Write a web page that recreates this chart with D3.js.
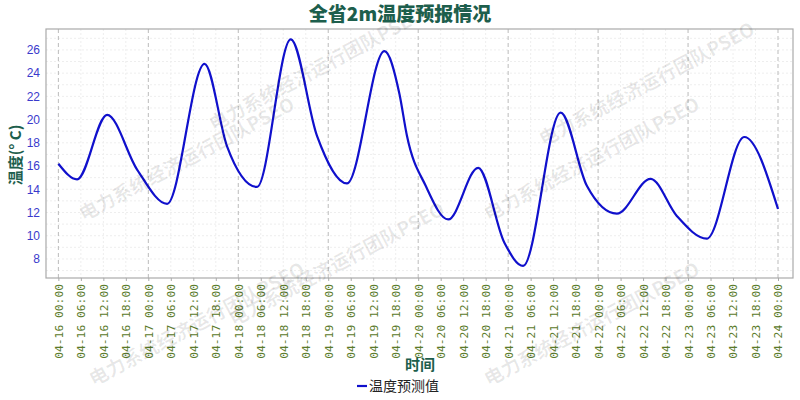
<!DOCTYPE html>
<html><head><meta charset="utf-8">
<script src="https://cdn.jsdelivr.net/npm/d3@7"></script>
<style>body{margin:0;background:#fff}</style>
</head><body><div id="chart"></div>
<script>
// hours since 04-16 00:00 and temperature
var hours = [0, 5, 13, 21, 29, 39, 45, 53, 62, 69, 77, 87, 91, 93, 98, 104, 112, 119, 124, 134, 141, 149, 158, 165, 173, 183, 192];
var temps = [16.2, 14.85, 20.4, 15.7, 12.75, 24.8, 17.7, 14.2, 26.9, 18.6, 14.5, 25.9, 22.2, 18.6, 14.3, 11.4, 15.85, 9.4, 7.4, 20.6, 14.3, 11.9, 14.9, 11.7, 9.75, 18.5, 12.3];
var yTicks = [8, 10, 12, 14, 16, 18, 20, 22, 24, 26];
var tickHours = d3.range(0, 193, 6);

var svgWidth = 800, svgHeight = 400;
var margin = {top: 29, bottom: 122, left: 46, right: 7};
var width = svgWidth - margin.left - margin.right;
var height = svgHeight - margin.top - margin.bottom;

var svg = d3.select("#chart").append("svg")
  .attr("width", svgWidth).attr("height", svgHeight)
  .style("font-family", "'DejaVu Sans', sans-serif");

var g = svg.append("g").attr("transform", `translate(${margin.left},${margin.top})`);

var xScale = d3.scaleLinear().domain([-3.3, 196]).range([0, width]);
var yScale = d3.scaleLinear().domain([6.36, 27.8]).range([height, 0]);

function label(h) {
  var day = 16 + Math.floor(h / 24), hh = h % 24;
  return "04-" + day + " " + String(hh).padStart(2, "0") + ":00";
}

// grid
g.selectAll(".hg").data(d3.range(7, 28, 1)).enter().append("line")
  .attr("x1", 0).attr("x2", width)
  .attr("y1", d => yScale(d)).attr("y2", d => yScale(d))
  .attr("stroke", "#eeeeee").attr("stroke-dasharray", "2,2");
g.selectAll(".vg").data(tickHours).enter().append("line")
  .attr("x1", d => xScale(d)).attr("x2", d => xScale(d))
  .attr("y1", 0).attr("y2", height)
  .attr("stroke", d => d % 24 === 0 ? "#bbbbbb" : "#eeeeee")
  .attr("stroke-dasharray", d => d % 24 === 0 ? "4,3" : "2,2");

g.append("rect").attr("width", width).attr("height", height)
  .attr("fill", "none").attr("stroke", "#aaaaaa").attr("stroke-width", 1.2);

// axes
var yAxis = g.append("g").call(d3.axisLeft(yScale).tickValues(yTicks).tickSize(0).tickPadding(6));
yAxis.select(".domain").remove();
yAxis.selectAll("text").attr("fill", "#3a3acc").attr("font-size", 12);

var xAxis = g.append("g").attr("transform", `translate(0,${height})`)
  .call(d3.axisBottom(xScale).tickValues(tickHours).tickFormat(label).tickSize(3));
xAxis.select(".domain").remove();
xAxis.selectAll("line").attr("stroke", "#aaaaaa");
xAxis.selectAll("text")
  .attr("transform", "rotate(-90)")
  .attr("text-anchor", "end")
  .attr("x", -6).attr("y", 0).attr("dy", "0.35em")
  .attr("fill", "#5a7a2a").attr("font-size", 11.3)
  .style("font-family", "'DejaVu Sans Mono', monospace");

// watermarks
var wm = [[190, 165], [320, 75], [200, 330], [340, 270], [595, 165], [595, 330], [650, 90]];
svg.selectAll(".wm").data(wm).enter().append("text")
  .attr("transform", d => `translate(${d[0]},${d[1]}) rotate(-28)`)
  .attr("text-anchor", "middle")
  .attr("font-size", 19).attr("font-weight", "bold")
  .attr("fill", "#000").attr("fill-opacity", 0.09)
  .style("font-family", "'Noto Sans CJK SC', sans-serif")
  .text("电力系统经济运行团队PSEO");

// line
var data = hours.map((h, i) => ({h: h, t: temps[i]}));
g.append("path").datum(data)
  .attr("fill", "none").attr("stroke", "#1010cc").attr("stroke-width", 2.2)
  .attr("d", d3.line().x(d => xScale(d.h)).y(d => yScale(d.t)).curve(d3.curveMonotoneX));

// titles
svg.append("text").attr("x", 400).attr("y", 21).attr("text-anchor", "middle")
  .attr("font-size", 19).attr("font-weight", "900").attr("fill", "#1d5e4c")
  .style("font-family", "'Noto Sans CJK SC', sans-serif")
  .text("全省2m温度预报情况");

svg.append("g").attr("transform", "translate(21,155)").append("text")
  .attr("transform", "rotate(-90)").attr("text-anchor", "middle")
  .attr("font-size", 15).attr("font-weight", "bold").attr("fill", "#1d5e4c")
  .style("font-family", "'Noto Sans CJK SC', sans-serif")
  .text("温度(° C)");

svg.append("text").attr("x", 420).attr("y", 370).attr("text-anchor", "middle")
  .attr("font-size", 15).attr("font-weight", "bold").attr("fill", "#1d5e4c")
  .style("font-family", "'Noto Sans CJK SC', sans-serif")
  .text("时间");

// legend
svg.append("line").attr("x1", 357).attr("x2", 367).attr("y1", 386).attr("y2", 386)
  .attr("stroke", "#1010cc").attr("stroke-width", 2.2);
svg.append("text").attr("x", 369).attr("y", 391)
  .attr("font-size", 14).attr("fill", "#222")
  .style("font-family", "'Noto Sans CJK SC', sans-serif")
  .text("温度预测值");
</script></body></html>
